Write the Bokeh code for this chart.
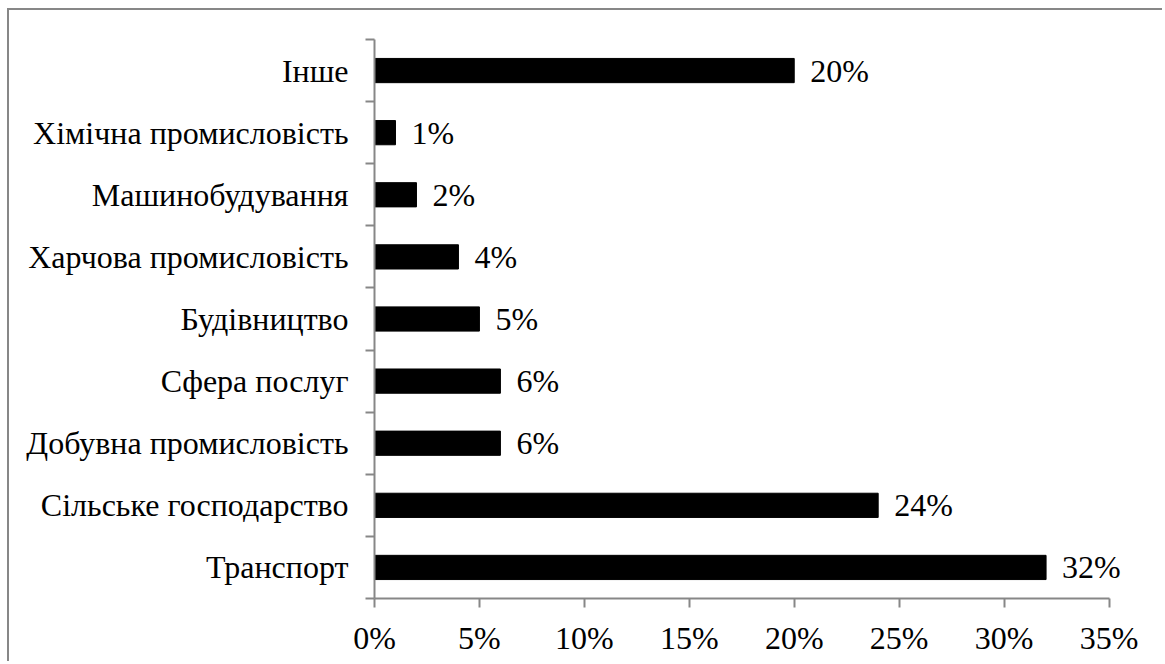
from bokeh.plotting import figure
from bokeh.models import Range1d, FixedTicker, PrintfTickFormatter, ColumnDataSource, LabelSet
from bokeh.embed import file_html
from bokeh.resources import INLINE

# Data (bottom to top)
categories = ["Транспорт", "Сільське господарство", "Добувна промисловість",
              "Сфера послуг", "Будівництво", "Харчова промисловість",
              "Машинобудування", "Хімічна промисловість", "Інше"]
shares = [32, 24, 6, 6, 5, 4, 2, 1, 20]
x_ticks = [0, 5, 10, 15, 20, 25, 30, 35]

FONT = "Liberation Serif"
FS = "32px"
GRAY = "#878787"

pos = [i + 0.5 for i in range(len(categories))]
src = ColumnDataSource(dict(y=pos, v=shares, lab=[f"{v}%" for v in shares]))

p = figure(width=1155, height=653, output_backend="svg", toolbar_location=None,
           x_range=Range1d(0, 37.5), y_range=Range1d(0, len(categories)),
           min_border_left=365, min_border_right=3, min_border_top=29,
           min_border_bottom=65)
p.styles = {"border-top": f"2px solid {GRAY}", "border-left": f"2px solid {GRAY}",
            "margin-left": "7px", "margin-top": "8px"}
p.outline_line_color = None
p.xgrid.grid_line_color = None
p.ygrid.grid_line_color = None
p.background_fill_color = "white"
p.border_fill_color = "white"

p.hbar(y="y", right="v", left=0, height=0.39, source=src, color="black")
labels = LabelSet(x="v", y="y", text="lab", source=src, x_offset=16,
                  text_baseline="middle", text_align="left", text_font=FONT,
                  text_font_size=FS, text_color="black", level="overlay")
p.add_layout(labels)

# x axis
xa = p.xaxis[0]
xa.bounds = (0, 35)
xa.ticker = FixedTicker(ticks=x_ticks)
xa.formatter = PrintfTickFormatter(format="%d%%")
xa.axis_line_color = GRAY
xa.axis_line_width = 2
xa.major_tick_line_color = GRAY
xa.major_tick_line_width = 2
xa.major_tick_out = 9
xa.major_tick_in = 0
xa.minor_tick_line_color = None
xa.major_label_text_font = FONT
xa.major_label_text_font_size = FS
xa.major_label_text_color = "black"
xa.major_label_standoff = 12

# y axis
ya = p.yaxis[0]
ya.ticker = FixedTicker(ticks=pos, minor_ticks=list(range(len(categories) + 1)))
ya.major_label_overrides = {t: c for t, c in zip(pos, categories)}
ya.axis_line_color = GRAY
ya.axis_line_width = 2
ya.major_tick_line_color = None
ya.minor_tick_line_color = GRAY
ya.minor_tick_line_width = 2
ya.minor_tick_out = 9
ya.minor_tick_in = 0
ya.major_label_text_font = FONT
ya.major_label_text_font_size = FS
ya.major_label_text_color = "black"
ya.major_label_standoff = 17

open("out.html", "w").write(file_html(p, INLINE))
